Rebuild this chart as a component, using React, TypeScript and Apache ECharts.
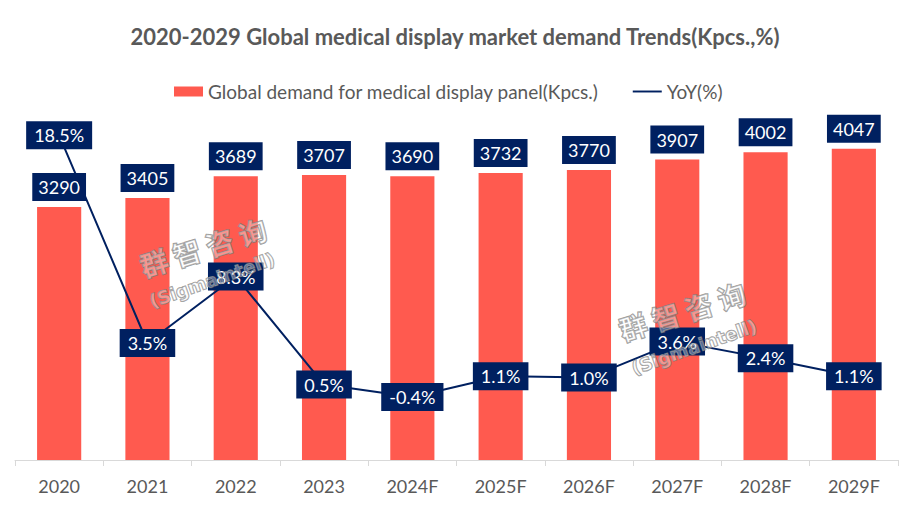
import React, { useEffect, useRef } from "react";
import * as echarts from "echarts";

const categories = ["2020", "2021", "2022", "2023", "2024F", "2025F", "2026F", "2027F", "2028F", "2029F"];
const demand = [3290, 3405, 3689, 3707, 3690, 3732, 3770, 3907, 4002, 4047];
const yoy = [18.5, 3.5, 8.3, 0.5, -0.4, 1.1, 1.0, 3.6, 2.4, 1.1];

const TITLE = "2020-2029 Global medical display market demand Trends(Kpcs.,%)";
const BAR_NAME = "Global demand for medical display panel(Kpcs.)";
const LINE_NAME = "YoY(%)";

const NAVY = "#002060";
const RED = "#FF5A4F";
const GRAY = "#595959";
const FONT = "Lato";

const watermark = (cx: number, cy: number, cx2: number, cy2: number) => [
  {
    type: "text",
    x: cx,
    y: cy,
    rotation: 0.3,
    z: 100,
    style: {
      text: "群 智 咨 询",
      font: "bold 28px 'Noto Sans CJK SC'",
      fill: "rgba(255,255,255,0.35)",
      stroke: "rgba(120,120,120,0.75)",
      lineWidth: 1.4,
      align: "center",
      verticalAlign: "middle",
    },
  },
  {
    type: "text",
    x: cx2,
    y: cy2,
    rotation: 0.34,
    z: 100,
    style: {
      text: "(Sigmaintell)",
      font: "bold 18px 'DejaVu Sans'",
      fill: "rgba(255,255,255,0.35)",
      stroke: "rgba(120,120,120,0.75)",
      lineWidth: 1.2,
      align: "center",
      verticalAlign: "middle",
    },
  },
];

export default function App() {
  const ref = useRef<HTMLDivElement>(null);
  useEffect(() => {
    if (!ref.current) return;
    const chart = echarts.init(ref.current, undefined, { renderer: "svg" });
    const boxLabel = {
      show: true,
      color: "#fff",
      backgroundColor: NAVY,
      fontFamily: FONT,
      fontSize: 18,
      lineHeight: 20,
      padding: [4, 6, 4, 6],
    };
    chart.setOption({
      animation: false,
      backgroundColor: "#fff",
      title: {
        text: TITLE,
        left: "center",
        top: 20,
        textStyle: { fontFamily: FONT, fontWeight: "bold", fontSize: 22, color: GRAY },
      },
      legend: {
        top: 77,
        left: 169,
        itemWidth: 29,
        itemHeight: 10,
        itemGap: 34,
        textStyle: { fontFamily: FONT, fontSize: 19, color: GRAY },
        data: [
          { name: BAR_NAME, icon: "rect" },
          { name: LINE_NAME, icon: "path://M0,0 L30,0 L30,2 L0,2 Z" },
        ],
      },
      grid: { left: 15, right: 12, top: 37, bottom: 60, containLabel: false },
      xAxis: {
        type: "category",
        data: categories,
        axisLine: { lineStyle: { color: "#D9D9D9", width: 1 } },
        axisTick: { show: true, length: 6, lineStyle: { color: "#D9D9D9" } },
        axisLabel: { color: GRAY, fontFamily: FONT, fontSize: 18, margin: 17 },
      },
      yAxis: [
        { type: "value", min: 0, max: 5500, show: false, splitLine: { show: false } },
        { type: "value", min: -4.95, max: 25.6, show: false, splitLine: { show: false } },
      ],
      series: [
        {
          name: BAR_NAME,
          type: "bar",
          data: demand,
          barWidth: "50%",
          itemStyle: { color: RED },
          label: { ...boxLabel, position: "top", distance: 6 },
        },
        {
          name: LINE_NAME,
          type: "line",
          yAxisIndex: 1,
          data: yoy,
          symbol: "circle",
          symbolSize: 1,
          itemStyle: { color: NAVY },
          lineStyle: { color: NAVY, width: 2 },
          z: 5,
          label: {
            ...boxLabel,
            position: "inside",
            padding: [4, 8, 4, 8],
            formatter: (p: any) => `${Number(p.value).toFixed(1)}%`,
          },
        },
      ],
      graphic: [...watermark(203, 247, 212, 280), ...watermark(682, 311, 694, 347)],
    });
    return () => chart.dispose();
  }, []);
  return (
    <div
      ref={ref}
      style={{ position: "fixed", left: 0, top: 0, width: 910, height: 520, background: "#fff" }}
    />
  );
}
